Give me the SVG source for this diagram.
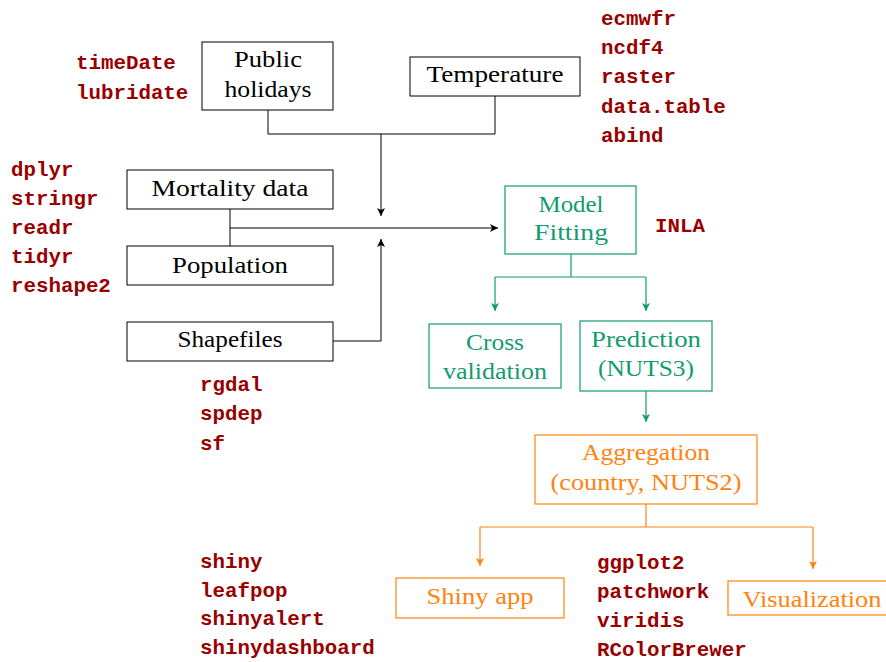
<svg xmlns="http://www.w3.org/2000/svg" width="886" height="662" viewBox="0 0 886 662">
<defs>
<style>
.bk rect{fill:#fff;stroke:#000;stroke-width:1}
.gr rect{fill:#fff;stroke:#129b6f;stroke-width:1.2}
.or rect{fill:#fff;stroke:#ff8210;stroke-width:1.2}
.lbl{font-family:"Liberation Serif","Times New Roman",serif;font-size:23.5px;text-anchor:middle}
.bk .lbl{fill:#000}
.gr .lbl{fill:#129b6f}
.or .lbl{fill:#ff8210}
.pk{font-family:"Liberation Mono","Courier New",monospace;font-size:20.8px;font-weight:bold;fill:#990000}
.ck{fill:none;stroke:#000;stroke-width:1}
.cg{fill:none;stroke:#129b6f;stroke-width:1.2}
.co{fill:none;stroke:#ff8210;stroke-width:1.2}
</style>
<marker id="ak" markerWidth="10" markerHeight="10" refX="8" refY="4" orient="auto" markerUnits="userSpaceOnUse"><path d="M0,0 L8,4 L0,8 L2,4 Z" fill="#000"/></marker>
<marker id="ag" markerWidth="10" markerHeight="10" refX="8" refY="4" orient="auto" markerUnits="userSpaceOnUse"><path d="M0,0 L8,4 L0,8 L2,4 Z" fill="#129b6f"/></marker>
<marker id="ao" markerWidth="10" markerHeight="10" refX="8" refY="4" orient="auto" markerUnits="userSpaceOnUse"><path d="M0,0 L8,4 L0,8 L2,4 Z" fill="#ff8210"/></marker>
</defs>
<rect width="886" height="662" fill="#fff"/>

<g id="connectors">
<path class="ck" d="M268,110 V134 H495 V96"/>
<path class="ck" d="M381,134 V216" marker-end="url(#ak)"/>
<path class="ck" d="M230,209 V246"/>
<path class="ck" d="M230,228 H498" marker-end="url(#ak)"/>
<path class="ck" d="M333,341 H381 V239" marker-end="url(#ak)"/>
<path class="cg" d="M571,254 V277"/>
<path class="cg" d="M495,277 H646"/>
<path class="cg" d="M495,277 V311" marker-end="url(#ag)"/>
<path class="cg" d="M646,277 V311" marker-end="url(#ag)"/>
<path class="cg" d="M646,391 V422" marker-end="url(#ag)"/>
<path class="co" d="M646,504 V527"/>
<path class="co" d="M480,527 H813"/>
<path class="co" d="M480,527 V566" marker-end="url(#ao)"/>
<path class="co" d="M813,527 V569" marker-end="url(#ao)"/>
</g>

<g id="public-holidays" class="bk">
<rect x="202" y="42" width="131" height="68"/>
<text class="lbl" x="268" y="67" textLength="68" lengthAdjust="spacingAndGlyphs">Public</text>
<text class="lbl" x="268" y="97" textLength="87" lengthAdjust="spacingAndGlyphs">holidays</text>
</g>
<g id="temperature" class="bk">
<rect x="410" y="57" width="170" height="39"/>
<text class="lbl" x="495" y="82" textLength="137" lengthAdjust="spacingAndGlyphs">Temperature</text>
</g>
<g id="mortality-data" class="bk">
<rect x="127" y="170" width="206" height="39"/>
<text class="lbl" x="230" y="196" textLength="157" lengthAdjust="spacingAndGlyphs">Mortality data</text>
</g>
<g id="population" class="bk">
<rect x="127" y="246" width="206" height="39"/>
<text class="lbl" x="230" y="273" textLength="116" lengthAdjust="spacingAndGlyphs">Population</text>
</g>
<g id="shapefiles" class="bk">
<rect x="127" y="322" width="206" height="39"/>
<text class="lbl" x="230" y="347" textLength="105" lengthAdjust="spacingAndGlyphs">Shapefiles</text>
</g>
<g id="model-fitting" class="gr">
<rect x="505" y="186" width="131" height="68"/>
<text class="lbl" x="571" y="212" textLength="65" lengthAdjust="spacingAndGlyphs">Model</text>
<text class="lbl" x="571" y="240" textLength="74" lengthAdjust="spacingAndGlyphs">Fitting</text>
</g>
<g id="cross-validation" class="gr">
<rect x="429" y="324" width="132" height="64"/>
<text class="lbl" x="495" y="350" textLength="58" lengthAdjust="spacingAndGlyphs">Cross</text>
<text class="lbl" x="495" y="379" textLength="104" lengthAdjust="spacingAndGlyphs">validation</text>
</g>
<g id="prediction" class="gr">
<rect x="580" y="321" width="132" height="70"/>
<text class="lbl" x="646" y="347" textLength="110" lengthAdjust="spacingAndGlyphs">Prediction</text>
<text class="lbl" x="646" y="376" textLength="96" lengthAdjust="spacingAndGlyphs">(NUTS3)</text>
</g>
<g id="aggregation" class="or">
<rect x="535" y="435" width="222" height="69"/>
<text class="lbl" x="646" y="460" textLength="128" lengthAdjust="spacingAndGlyphs">Aggregation</text>
<text class="lbl" x="646" y="490" textLength="191" lengthAdjust="spacingAndGlyphs">(country, NUTS2)</text>
</g>
<g id="shiny-app" class="or">
<rect x="396" y="578" width="168" height="40"/>
<text class="lbl" x="480" y="604" textLength="107" lengthAdjust="spacingAndGlyphs">Shiny app</text>
</g>
<g id="visualization" class="or">
<rect x="728" y="581" width="160" height="34"/>
<text class="lbl" x="812" y="607" textLength="139" lengthAdjust="spacingAndGlyphs">Visualization</text>
</g>

<g id="packages">
<text class="pk" x="76" y="69">timeDate</text>
<text class="pk" x="76" y="99">lubridate</text>
<text class="pk" x="601" y="25">ecmwfr</text>
<text class="pk" x="601" y="54">ncdf4</text>
<text class="pk" x="601" y="83">raster</text>
<text class="pk" x="601" y="113">data.table</text>
<text class="pk" x="601" y="142">abind</text>
<text class="pk" x="11" y="176">dplyr</text>
<text class="pk" x="11" y="205">stringr</text>
<text class="pk" x="11" y="234">readr</text>
<text class="pk" x="11" y="263">tidyr</text>
<text class="pk" x="11" y="292">reshape2</text>
<text class="pk" x="655" y="232">INLA</text>
<text class="pk" x="200" y="391">rgdal</text>
<text class="pk" x="200" y="420">spdep</text>
<text class="pk" x="200" y="450">sf</text>
<text class="pk" x="200" y="568">shiny</text>
<text class="pk" x="200" y="597">leafpop</text>
<text class="pk" x="200" y="625">shinyalert</text>
<text class="pk" x="200" y="654">shinydashboard</text>
<text class="pk" x="597" y="569">ggplot2</text>
<text class="pk" x="597" y="598">patchwork</text>
<text class="pk" x="597" y="627">viridis</text>
<text class="pk" x="597" y="656">RColorBrewer</text>
</g>
</svg>
